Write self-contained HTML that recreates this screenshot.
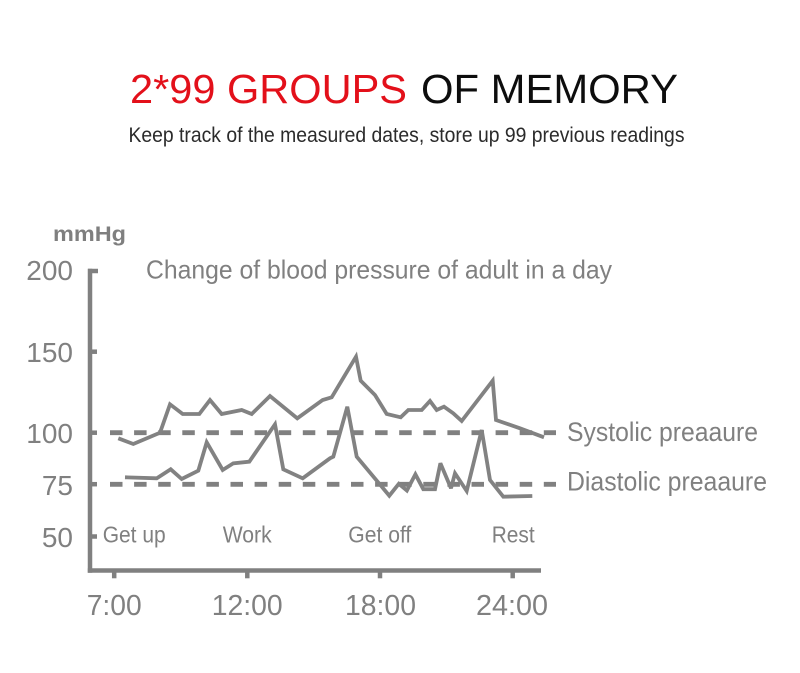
<!DOCTYPE html>
<html>
<head>
<meta charset="utf-8">
<style>
  html, body { margin:0; padding:0; background:#ffffff; }
  body { width:800px; height:673px; overflow:hidden; }
  svg { display:block; }
  text { font-family: "Liberation Sans", Arial, sans-serif; }
</style>
</head>
<body>
<svg width="800" height="673" viewBox="0 0 800 673" xmlns="http://www.w3.org/2000/svg">
  <rect x="0" y="0" width="800" height="673" fill="#ffffff"/>

  <!-- Title -->
  <text x="130" y="103" font-size="41" fill="#e3101a" textLength="277" lengthAdjust="spacingAndGlyphs">2*99 GROUPS</text>
  <text x="421" y="103" font-size="41" fill="#0d0d0d" textLength="257" lengthAdjust="spacingAndGlyphs">OF MEMORY</text>
  <text x="128.5" y="142" font-size="21.5" fill="#2b2b2b" textLength="556" lengthAdjust="spacingAndGlyphs">Keep track of the measured dates, store up 99 previous readings</text>

  <!-- Axis unit -->
  <text x="53" y="241" font-size="21" font-weight="bold" fill="#7f7f7f" textLength="73" lengthAdjust="spacingAndGlyphs">mmHg</text>

  <!-- Chart caption -->
  <text x="146" y="278.5" font-size="26" fill="#808080" textLength="466" lengthAdjust="spacingAndGlyphs">Change of blood pressure of adult in a day</text>

  <g fill="#808080">
    <!-- Y-axis labels -->
    <text x="73" y="280" font-size="28" text-anchor="end">200</text>
    <text x="73" y="362" font-size="28" text-anchor="end">150</text>
    <text x="73" y="443" font-size="28" text-anchor="end">100</text>
    <text x="73" y="495" font-size="28" text-anchor="end">75</text>
    <text x="73" y="547" font-size="28" text-anchor="end">50</text>

    <!-- X-axis labels -->
    <text x="86.7" y="615" font-size="29" textLength="55" lengthAdjust="spacingAndGlyphs">7:00</text>
    <text x="211.7" y="615" font-size="29" textLength="71" lengthAdjust="spacingAndGlyphs">12:00</text>
    <text x="345" y="615" font-size="29" textLength="71" lengthAdjust="spacingAndGlyphs">18:00</text>
    <text x="476" y="615" font-size="29" textLength="72" lengthAdjust="spacingAndGlyphs">24:00</text>

    <!-- Event labels -->
    <text x="102.7" y="542.5" font-size="23" textLength="63" lengthAdjust="spacingAndGlyphs">Get up</text>
    <text x="222.7" y="542.5" font-size="23" textLength="49" lengthAdjust="spacingAndGlyphs">Work</text>
    <text x="348.3" y="542.5" font-size="23" textLength="63" lengthAdjust="spacingAndGlyphs">Get off</text>
    <text x="491.7" y="542.5" font-size="23" textLength="43" lengthAdjust="spacingAndGlyphs">Rest</text>

    <!-- Legend labels -->
    <text x="567" y="441" font-size="27" textLength="191" lengthAdjust="spacingAndGlyphs">Systolic preaaure</text>
    <text x="567" y="490.5" font-size="27" textLength="200" lengthAdjust="spacingAndGlyphs">Diastolic preaaure</text>
  </g>

  <!-- Axes -->
  <g stroke="#808080" stroke-width="4.5" fill="none" stroke-linecap="butt">
    <line x1="90" y1="268.8" x2="90" y2="572.8"/>
    <line x1="87.8" y1="570.5" x2="541" y2="570.5"/>
    <!-- y ticks -->
    <line x1="88" y1="271" x2="98" y2="271"/>
    <line x1="88" y1="351.7" x2="97" y2="351.7"/>
    <line x1="88" y1="432.7" x2="97" y2="432.7"/>
    <line x1="88" y1="484.2" x2="97" y2="484.2"/>
    <line x1="88" y1="536.5" x2="97" y2="536.5"/>
    <!-- x ticks -->
    <line x1="114.2" y1="570" x2="114.2" y2="578.3"/>
    <line x1="247.3" y1="570" x2="247.3" y2="578.3"/>
    <line x1="380" y1="570" x2="380" y2="578.3"/>
    <line x1="512.7" y1="570" x2="512.7" y2="578.3"/>
  </g>

  <!-- Dashed reference lines -->
  <g stroke="#808080" stroke-width="4.8" fill="none" stroke-dasharray="12.5 11.6">
    <line x1="110" y1="432.7" x2="556" y2="432.7"/>
    <line x1="110" y1="484.3" x2="556" y2="484.3"/>
  </g>

  <!-- Series -->
  <g stroke="#828282" stroke-width="3.8" fill="none" stroke-linejoin="miter" stroke-miterlimit="3" stroke-linecap="butt">
    <!-- Systolic -->
    <polyline points="118.3,438.3 133.3,444 160,432.7 170,404.3 182.7,414 199.3,414 210,400 221.7,414 241.7,410 251.7,414 270,396 297.3,418.3 322.7,400 331.7,397.3 356,356.7 360.7,380.7 375,395 386.7,414 400.7,417.3 408.3,410 421.7,410 430,401 436.7,410 444,406.7 453.3,413.3 461.7,421 492.7,380.7 496,420 520,428.3 544,437.3"/>
    <!-- Diastolic -->
    <polyline points="125,477.3 156.7,478.3 170.7,469.3 181.7,479 198.3,470.7 206.7,442.3 222.7,470 233.3,463.3 249.3,461.7 275,424.3 283.3,469.3 302.7,478.3 330,458.3 333.3,456.7 347.3,406.7 356.7,456.7 389.3,495.7 398.8,483.8 406.9,490.5 415.4,474.3 423.3,489.2 435,489.2 440.4,463.3 451,488.3 455,473.3 466.7,491 481.7,430 490,480 503.3,496.7 532.3,496"/>
  </g>
</svg>
</body>
</html>
